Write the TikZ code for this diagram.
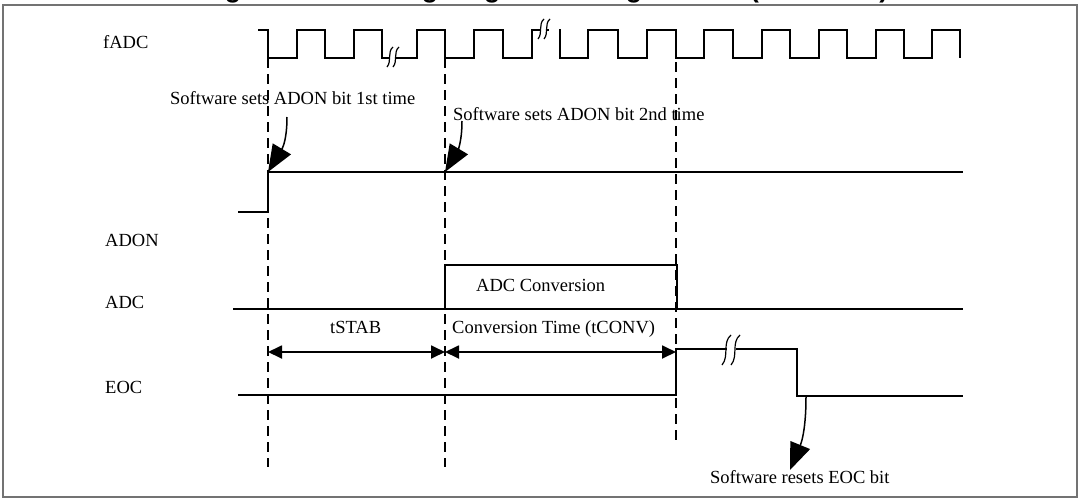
\documentclass[tikz,border=0pt]{standalone}
\usepackage{fontspec}
\setmainfont{Liberation Serif}
\newfontfamily\titlefont{Liberation Sans}
\usetikzlibrary{arrows.meta}
\begin{document}
\begin{tikzpicture}[x=1pt,y=-1pt,
  sig/.style={line width=1.8pt, line join=miter},
  guide/.style={line width=1.3pt, dash pattern=on 10pt off 6pt},
  lbl/.style={anchor=base west, inner sep=0pt, font=\fontsize{18.5}{22}\selectfont},
  bigtip/.style={-{Triangle[length=27pt,width=21pt]}, line width=1.5pt},
  dimarrow/.style={{Triangle[length=14pt,width=13pt]}-{Triangle[length=14pt,width=13pt]}, line width=1.8pt},
  squig/.pic={
    \fill[white] (-3,-2.5) rectangle (3,2.5);
    \draw[line width=1.2pt] (0,-10) .. controls (-6,-5) and (-1,4) .. (-6,10);
    \draw[line width=1.2pt] (6,-10) .. controls (0,-5) and (5,4) .. (0,10);
  }
]
\useasboundingbox (0,0) rectangle (1080,501);
\clip (0,0) rectangle (1080,501);

% caption, cut off at the top edge as in the reference (only descenders visible)
\node[anchor=base west, inner sep=0pt, font=\titlefont\bfseries\fontsize{26.6}{30}\selectfont] (title) at (201,-2.6) {Figure 100. Timing diagram in single mode (CONT = 0)};

% frame
\draw[line width=1.5pt, black!55] (3,5) rectangle (1077,497);

% signal labels
\node[lbl] (lfadc) at (103,48) {fADC};
\node[lbl] (ladon) at (105,246) {ADON};
\node[lbl] (ladc)  at (105,308) {ADC};
\node[lbl] (leoc)  at (105,393) {EOC};

% guide lines
\draw[guide] (268,58) -- (268,467);
\draw[guide] (445,58) -- (445,467);
\draw[guide] (676,30) -- (676,445);

% fADC clock
\draw[sig] (258,30) -- (268,30) -- (268,58) -- (297,58) -- (297,30) -- (325,30) -- (325,58)
  -- (354,58) -- (354,30) -- (382,30) -- (382,58) -- (417,58) -- (417,30) -- (445,30)
  -- (445,58) -- (474,58) -- (474,30) -- (503,30) -- (503,58) -- (532,58) -- (532,30)
  -- (560,30) -- (560,58) -- (588,58) -- (588,30) -- (618,30) -- (618,58) -- (647,58)
  -- (647,30) -- (676,30) -- (676,58) -- (704,58) -- (704,30) -- (733,30) -- (733,58)
  -- (762,58) -- (762,30) -- (790,30) -- (790,58) -- (819,58) -- (819,30) -- (847,30)
  -- (847,58) -- (876,58) -- (876,30) -- (904,30) -- (904,58) -- (932,58) -- (932,30)
  -- (960,30) -- (960,58);
\pic at (393,57) {squig};
\pic at (544,29) {squig};
\fill[white] (549,28) rectangle (558.8,32);

% ADON
\draw[sig] (238,212) -- (268,212) -- (268,172) -- (963,172);

% ADC
\draw[sig] (233,309) -- (963,309);
\draw[sig] (445,309) -- (445,265) -- (677,265) -- (677,309);
\node[lbl] (adcconv) at (476,291) {ADC Conversion};

% timing intervals
\node[lbl] (tstab) at (330,333) {tSTAB};
\node[lbl] (tconv) at (452,333) {Conversion Time (tCONV)};
\coordinate (d0) at (268,352);
\coordinate (d1) at (445,352);
\coordinate (d2) at (676,352);
\draw[dimarrow] (d0) -- (d1);
\draw[dimarrow] (d1) -- (d2);

% EOC
\draw[sig] (238,395) -- (676,395) -- (676,349) -- (797,349) -- (797,396) -- (963,396);
\pic[scale=1.5] at (731,350) {squig};

% annotations
\node[lbl] (sw1) at (170,104) {Software sets ADON bit 1st time};
\node[lbl] (sw2) at (453,120) {Software sets ADON bit 2nd time};
\node[lbl] (sw3) at (710,483) {Software resets EOC bit};

\coordinate (a1s) at (287,117);
\coordinate (a1e) at (268,172);
\coordinate (a2s) at (462,121);
\coordinate (a2e) at (445,172);
\coordinate (a3s) at (806,397);
\coordinate (a3e) at (790,470);
\draw[bigtip] (a1s) .. controls +(0,28) and +(12,-20) .. (a1e);
\draw[bigtip] (a2s) .. controls +(0,22) and +(12,-20) .. (a2e);
\draw[bigtip] (a3s) .. controls +(0,40) and +(9,-22) .. (a3e);
\end{tikzpicture}
\end{document}
